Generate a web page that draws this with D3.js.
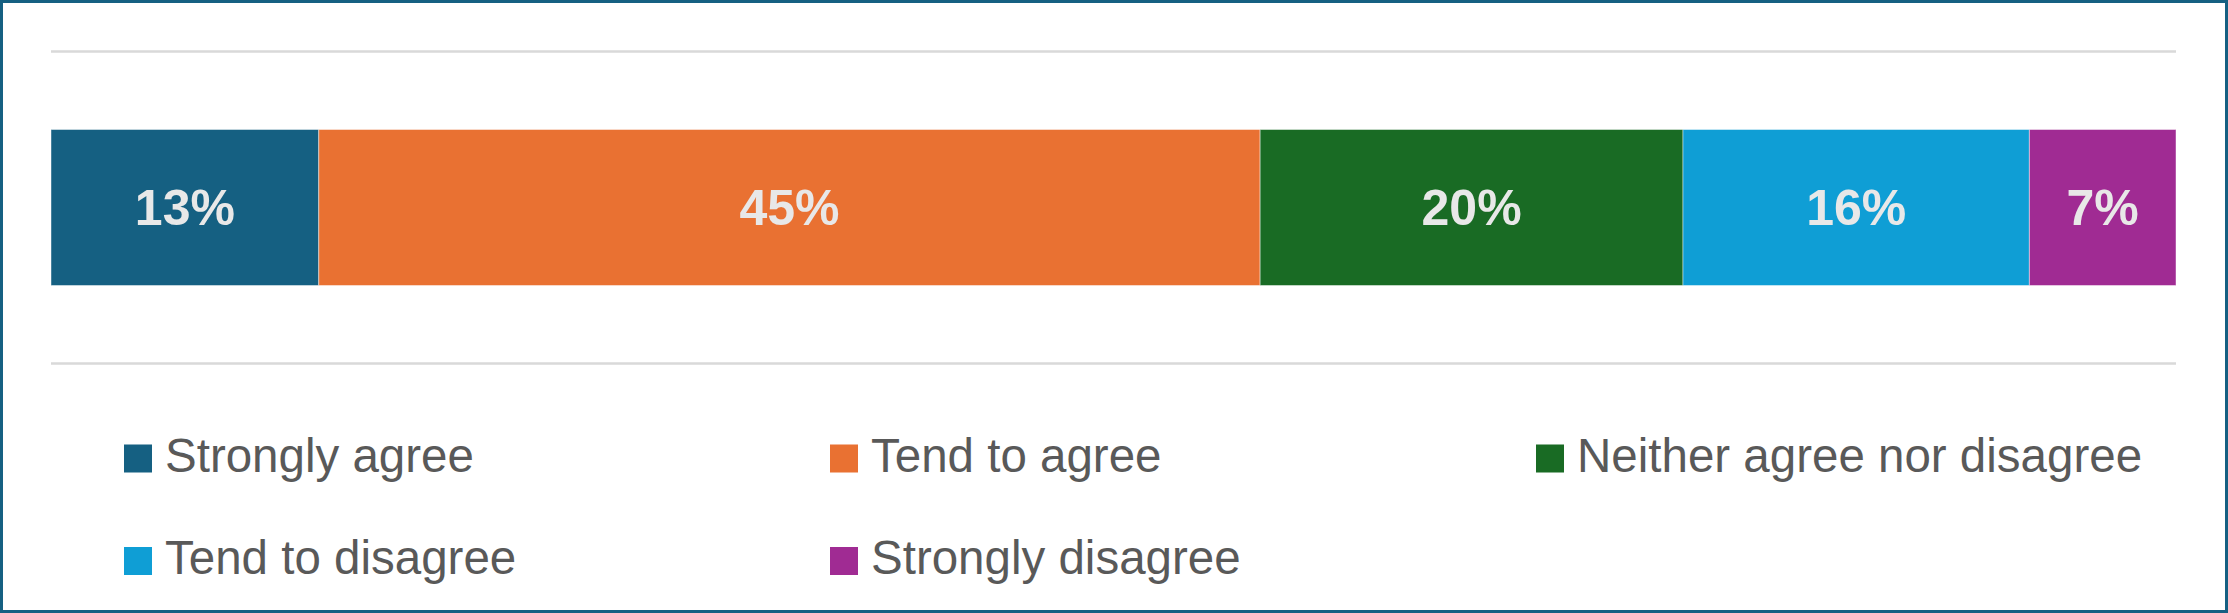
<!DOCTYPE html>
<html lang="en">
<head>
  <meta charset="UTF-8">
  <title>Agreement stacked bar</title>
  <script src="https://d3js.org/d3.v7.min.js"></script>
  <style>
    html, body { margin: 0; padding: 0; background: #fff; }
    svg { display: block; }
    .seg-label {
      font: bold 50px "Liberation Sans", Arial, sans-serif;
      fill: #e8e8e8;
    }
    .legend text {
      font: 47.5px "Liberation Sans", Arial, sans-serif;
      fill: #595959;
    }
    .grid {
      stroke: #d9d9d9;
      stroke-width: 2.7px;
    }
  </style>
</head>
<body>
<svg width="2228" height="613"></svg>
<script>
// Data
const categories = ["Strongly agree", "Tend to agree", "Neither agree nor disagree", "Tend to disagree", "Strongly disagree"];
const values = [12.6, 44.3, 19.9, 16.3, 6.9];
const labels = ["13%", "45%", "20%", "16%", "7%"];
const colors = ["#156082", "#e97132", "#196b24", "#0f9ed5", "#a02b93"];
const question = ["all"];

const svg = d3.select("svg"),
  width = +svg.attr("width"),
  height = +svg.attr("height");

// frame
svg.append("rect")
  .attr("x", 1.5).attr("y", 1.5)
  .attr("width", width - 3).attr("height", height - 3)
  .attr("fill", "#fff")
  .attr("stroke", "#156082")
  .attr("stroke-width", 3);

const x = d3.scaleLinear().domain([0, 100]).range([51, 2176]);
const y = d3.scaleBand().domain(question).range([51.5, 363.5]).paddingInner(0).paddingOuter(0.5);

// gridlines at the category edges
const edges = y.range();
svg.selectAll("line.grid")
  .data(edges)
  .enter().append("line")
  .attr("class", "grid")
  .attr("x1", x.range()[0]).attr("x2", x.range()[1])
  .attr("y1", d => d).attr("y2", d => d);

// stack the values
const rows = [Object.fromEntries(categories.map((c, i) => [c, values[i]]))];
const series = d3.stack().keys(categories)(rows);

const seg = svg.append("g").selectAll("g")
  .data(series)
  .enter().append("g");

seg.append("rect")
  .attr("x", d => x(d[0][0]))
  .attr("width", d => x(d[0][1]) - x(d[0][0]))
  .attr("y", y("all"))
  .attr("height", y.bandwidth())
  .attr("fill", (d, i) => colors[i])
  .attr("stroke", "rgba(255,255,255,0.45)")
  .attr("stroke-width", 1);

seg.append("text")
  .attr("class", "seg-label")
  .attr("x", d => (x(d[0][0]) + x(d[0][1])) / 2)
  .attr("y", y("all") + y.bandwidth() / 2)
  .attr("dy", "0.35em")
  .attr("text-anchor", "middle")
  .text((d, i) => labels[i]);

// legend, three per row
const legend = svg.append("g").attr("class", "legend")
  .selectAll("g")
  .data(categories)
  .enter().append("g")
  .attr("transform", (d, i) => `translate(${124 + (i % 3) * 706},${458.5 + Math.floor(i / 3) * 102.5})`);

legend.append("rect")
  .attr("x", 0).attr("y", -14)
  .attr("width", 28).attr("height", 28)
  .attr("fill", (d, i) => colors[i]);

legend.append("text")
  .attr("x", 41)
  .attr("y", 13)
  .text(d => d);
</script>
</body>
</html>
